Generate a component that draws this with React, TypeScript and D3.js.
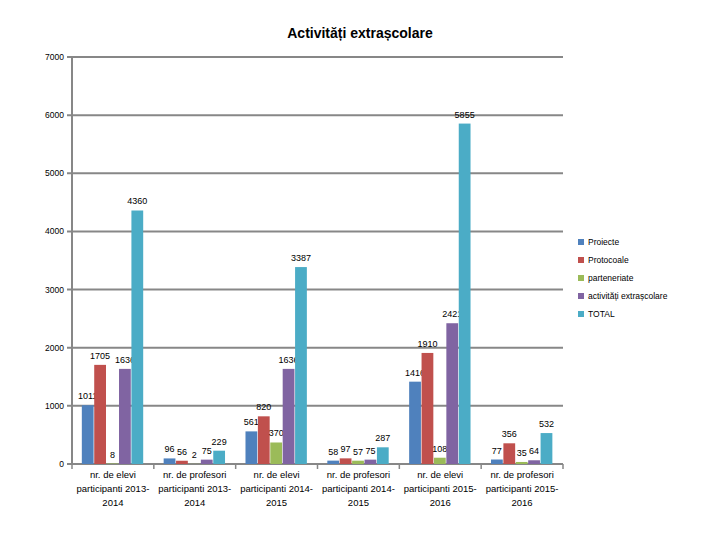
import React from 'react';
import * as d3 from 'd3';

const categories = [
  ['nr. de elevi', 'participanti 2013-', '2014'],
  ['nr. de profesori', 'participanti 2013-', '2014'],
  ['nr. de elevi', 'participanti 2014-', '2015'],
  ['nr. de profesori', 'participanti 2014-', '2015'],
  ['nr. de elevi', 'participanti 2015-', '2016'],
  ['nr. de profesori', 'participanti 2015-', '2016'],
];
const seriesNames = ['Proiecte', 'Protocoale', 'parteneriate', 'activități extrașcolare', 'TOTAL'];
const seriesColors = ['#4F81BD', '#C0504D', '#9BBB59', '#8064A2', '#4BACC6'];

const proiecte = [1011, 96, 561, 58, 1416, 77];
const protocoale = [1705, 56, 820, 97, 1910, 356];
const parteneriate = [8, 2, 370, 57, 108, 35];
const activitati = [1636, 75, 1636, 75, 2421, 64];
const total = [4360, 229, 3387, 287, 5855, 532];
const yTicks = [0, 1000, 2000, 3000, 4000, 5000, 6000, 7000];

const series = [proiecte, protocoale, parteneriate, activitati, total];

const font = '"Liberation Sans", Arial, sans-serif';

export default function App() {
  const W = 720;
  const H = 540;
  const left = 72;
  const right = 563;
  const top = 57;
  const bottom = 464;

  const x0 = d3.scaleBand<number>().domain(d3.range(categories.length)).range([left, right]);
  const cw = x0.bandwidth();
  const x1 = d3
    .scaleBand<number>()
    .domain(d3.range(series.length))
    .range([cw * 0.12, cw * 0.87])
    .paddingInner(0.05);
  const y = d3.scaleLinear().domain([0, 7000]).range([bottom, top]);

  return (
    <div style={{ position: 'absolute', left: 0, top: 0 }}>
      <svg width={W} height={H} style={{ display: 'block', background: '#fff' }} fontFamily={font}>
        <text x={360} y={38} textAnchor="middle" fontSize={14} fontWeight="bold">
          Activități extrașcolare
        </text>

        {yTicks.map((t) => (
          <g key={t}>
            <line x1={left - 5} x2={right} y1={y(t)} y2={y(t)} stroke="#878787" strokeWidth={2} />
            <text x={left - 8} y={y(t) + 3} textAnchor="end" fontSize={8.5}>
              {t}
            </text>
          </g>
        ))}
        <line x1={left} x2={left} y1={top} y2={bottom} stroke="#878787" strokeWidth={2} />
        {d3.range(categories.length + 1).map((i) => {
          const xx = i < categories.length ? (x0(i) as number) : right;
          return <line key={i} x1={xx} x2={xx} y1={bottom} y2={bottom + 5} stroke="#878787" strokeWidth={1.5} />;
        })}

        {categories.map((cat, ci) => (
          <g key={ci} transform={`translate(${x0(ci)},0)`}>
            {series.map((vals, si) => {
              const bx = x1(si) as number;
              const v = vals[ci];
              return (
                <g key={si}>
                  <rect x={bx} y={y(v)} width={x1.bandwidth()} height={bottom - y(v)} fill={seriesColors[si]} />
                  <text x={bx + x1.bandwidth() / 2} y={y(v) - 6} textAnchor="middle" fontSize={9}>
                    {v}
                  </text>
                </g>
              );
            })}
            {cat.map((line, li) => (
              <text key={li} x={cw / 2} y={478 + li * 14} textAnchor="middle" fontSize={9.5}>
                {line}
              </text>
            ))}
          </g>
        ))}

        {seriesNames.map((name, i) => (
          <g key={name} transform={`translate(578,${242 + i * 18})`}>
            <rect x={0} y={-3} width={6} height={6} fill={seriesColors[i]} />
            <text x={10} y={3} fontSize={8.5}>
              {name}
            </text>
          </g>
        ))}
      </svg>
    </div>
  );
}
